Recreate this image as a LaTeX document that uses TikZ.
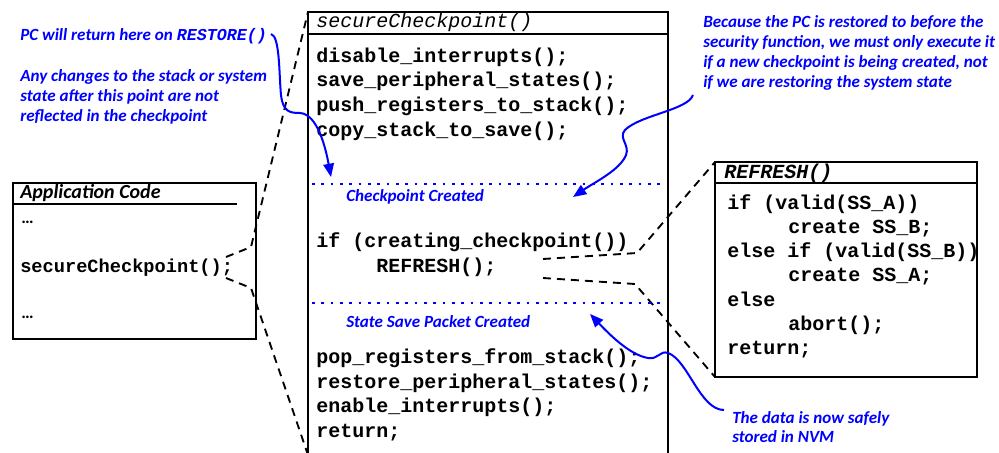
\documentclass[tikz,border=0pt]{standalone}
\usepackage{fontspec}
\setmainfont{Carlito}
\newfontfamily\codefont{Liberation Mono}
\usetikzlibrary{arrows.meta}
\tikzset{
  box/.style={line width=1.9pt},
  code/.style={anchor=base west, inner sep=0pt, font=\codefont\bfseries\fontsize{15}{18}\selectfont},
  appcode/.style={anchor=base west, inner sep=0pt, font=\codefont\bfseries\fontsize{14}{17}\selectfont},
  hdr/.style={anchor=base west, inner sep=0pt, font=\codefont\itshape\fontsize{15}{18}\selectfont},
  note/.style={anchor=base west, inner sep=0pt, text=blue, font=\bfseries\itshape\fontsize{12.8}{15}\selectfont},
  zoomline/.style={line width=1.4pt, dash pattern=on 6pt off 4.5pt},
  marker/.style={blue, line width=2pt, dash pattern=on 2pt off 5pt},
  callout/.style={blue, line width=1.5pt, -{Triangle[length=10pt,width=8pt]}},
}
\begin{document}
\begin{tikzpicture}[x=0.75pt,y=-0.75pt]
\useasboundingbox (0,0) rectangle (999,453);

% coordinates
\coordinate (mainTL) at (308,12);
\coordinate (mainTR) at (668,12);
\coordinate (mainBL) at (308,455);
\coordinate (mainBR) at (668,455);
\coordinate (appTL) at (13,183);
\coordinate (appBR) at (256,339);
\coordinate (refTL) at (715,162);
\coordinate (refBL) at (715,377);
\coordinate (refBR) at (977,377);

% zoom connectors (dashed)
\coordinate (appA) at (226,257);
\coordinate (appB) at (251,247);
\coordinate (appC) at (226,278);
\coordinate (appD) at (251,288);
\draw[zoomline] (appA) -- (appB) -- (mainTL);
\draw[zoomline] (appC) -- (appD) -- (mainBL);
\coordinate (r1) at (543,259);
\coordinate (r2) at (637,253);
\coordinate (r3) at (543,278);
\coordinate (r4) at (635,284);
\draw[zoomline] (r1) -- (r2) -- (refTL);
\draw[zoomline] (r3) -- (r4) -- (refBL);

% main box
\draw[box] (mainBL) -- (mainTL) -- (mainTR) -- (mainBR);
\draw[box] (308,34) -- (668,34);
\node[hdr] (mainhdr) at (316,28) {secureCheckpoint()};
\node[code] (m1) at (316,63) {disable\_interrupts();};
\node[code] (m2) at (316,87) {save\_peripheral\_states();};
\node[code] (m3) at (316,111) {push\_registers\_to\_stack();};
\node[code] (m4) at (316,136) {copy\_stack\_to\_save();};
\node[code] (m5) at (316,247) {if (creating\_checkpoint())};
\node[code] (m6) at (376,272) {REFRESH();};
\node[code] (m7) at (316,363) {pop\_registers\_from\_stack();};
\node[code] (m8) at (316,388) {restore\_peripheral\_states();};
\node[code] (m9) at (316,412) {enable\_interrupts();};
\node[code] (m10) at (316,437) {return;};

% markers
\coordinate (d1a) at (312,184);
\coordinate (d1b) at (665,184);
\coordinate (d2a) at (312,303);
\coordinate (d2b) at (665,303);
\draw[marker] (d1a) -- (d1b);
\draw[marker] (d2a) -- (d2b);
\node[note] (cpc) at (346,201) {Checkpoint Created};
\node[note] (ssp) at (346,327) {State Save Packet Created};

% application box
\draw[box] (appTL) rectangle (appBR);
\draw[box] (13,204) -- (237,204);
\node[anchor=base west, inner sep=0pt, font=\bfseries\itshape\fontsize{15}{18}\selectfont] (apph) at (20,198) {Application Code};
\node[anchor=base west, inner sep=0pt, font=\bfseries\fontsize{13}{15}\selectfont] (a1) at (21,223) {\ldots};
\node[appcode] (a2) at (20,272) {secureCheckpoint();};
\node[anchor=base west, inner sep=0pt, font=\bfseries\fontsize{13}{15}\selectfont] (a3) at (21,318) {\ldots};

% REFRESH box
\draw[box] (refTL) -- (977,162) -- (refBR) -- (refBL) -- cycle;
\draw[box] (715,183) -- (977,183);
\node[hdr, font=\codefont\bfseries\itshape\fontsize{15}{18}\selectfont] (rhdr) at (724,178) {REFRESH()};
\node[code] (f1) at (727,209) {if (valid(SS\_A))};
\node[code] (f2) at (788,233) {create SS\_B;};
\node[code] (f3) at (727,257) {else if (valid(SS\_B))};
\node[code] (f4) at (788,281) {create SS\_A;};
\node[code] (f5) at (727,306) {else};
\node[code] (f6) at (788,330) {abort();};
\node[code] (f7) at (727,354) {return;};

% notes
\node[note] (n1) at (20,41) {PC will return here on {\codefont\bfseries\itshape\fontsize{12.5}{15}\selectfont RESTORE()}};
\node[note] (n2) at (20,82) {Any changes to the stack or system};
\node[note] (n3) at (20,102) {state after this point are not};
\node[note] (n4) at (20,122) {reflected in the checkpoint};

\node[note] (b1) at (703,28) {Because the PC is restored to before the};
\node[note] (b2) at (703,48) {security function, we must only execute it};
\node[note] (b3) at (703,68) {if a new checkpoint is being created, not};
\node[note] (b4) at (703,88) {if we are restoring the system state};

\node[note] (t1) at (732,423) {The data is now safely};
\node[note] (t2) at (732,442) {stored in NVM};

% callout curves
\coordinate (c1s) at (271,34);
\coordinate (c1t) at (331,177);
\draw[callout] (c1s) .. controls (280,36) and (279,75) .. (281,95)
  .. controls (283,112) and (290,113) .. (300,113)
  .. controls (318,114) and (326,150) .. (c1t);
\coordinate (c2s) at (693,95);
\coordinate (c2t) at (573,197);
\draw[callout] (c2s) .. controls (688,110) and (640,115) .. (625,130)
  .. controls (618,138) and (630,145) .. (626,155)
  .. controls (620,170) and (595,182) .. (c2t);
\coordinate (c3s) at (724,410);
\coordinate (c3t) at (590,314);
\draw[callout] (c3s) .. controls (700,410) and (688,360) .. (668,353)
  .. controls (660,350) and (658,360) .. (648,358)
  .. controls (630,355) and (610,335) .. (c3t);
\end{tikzpicture}
\end{document}
